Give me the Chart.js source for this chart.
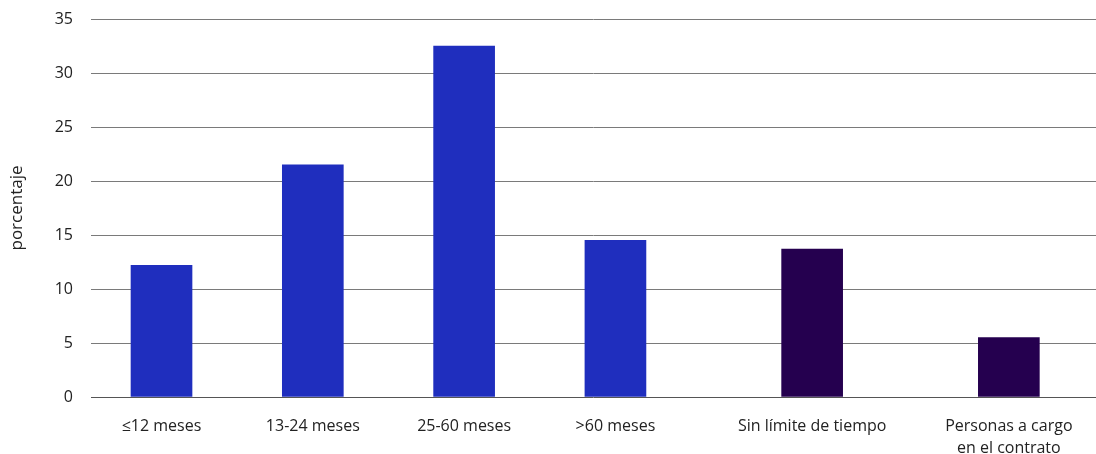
<!DOCTYPE html>
<html lang="es">
<head>
<meta charset="utf-8">
<title>Duración de los contratos</title>
<script src="https://cdn.jsdelivr.net/npm/chart.js@4/dist/chart.umd.min.js"></script>
<style>
  html, body { margin: 0; padding: 0; background: #ffffff; }
  #wrap { width: 1096px; height: 454px; }
</style>
</head>
<body>
<div id="wrap"><canvas id="chart" width="1096" height="454"></canvas></div>
<script>
// Category labels (multi-line labels as arrays)
const categories = [
  '≤12 meses',
  '13-24 meses',
  '25-60 meses',
  '>60 meses',
  'Sin límite de tiempo',
  ['Personas a cargo', 'en el contrato']
];
// Share of contracts, in percent
const values = [12.2, 21.5, 32.5, 14.5, 13.7, 5.5];
// Y-axis tick values
const yTicks = [0, 5, 10, 15, 20, 25, 30, 35];

// Layout: horizontal slot of each bar (the last two sit in a wider group)
const slots = [0, 1, 2, 3, 4.3, 5.6];
const barColors = ['#1f2ebe', '#1f2ebe', '#1f2ebe', '#1f2ebe', '#25004f', '#25004f'];

const points = values.map((v, i) => ({ x: slots[i], y: v }));

new Chart(document.getElementById('chart'), {
  type: 'bar',
  data: {
    datasets: [{
      data: points,
      backgroundColor: barColors,
      borderWidth: 0,
      barThickness: 61
    }]
  },
  options: {
    responsive: false,
    animation: false,
    layout: { padding: { top: 19, right: 0, bottom: 0, left: 0 } },
    plugins: { legend: { display: false }, tooltip: { enabled: false } },
    scales: {
      x: {
        type: 'linear',
        offset: false,
        min: -0.466,
        max: 6.176,
        afterBuildTicks: (scale) => {
          scale.ticks = slots.map(s => ({ value: s }));
        },
        afterFit: (scale) => { scale.height = 57; },
        grid: { display: false, drawTicks: false },
        border: { display: false },
        ticks: {
          autoSkip: false,
          maxRotation: 0,
          padding: 18,
          color: '#222222',
          font: { family: '"Open Sans", sans-serif', size: 16, lineHeight: 1.4 },
          callback: (value) => {
            const i = slots.indexOf(value);
            return i >= 0 ? categories[i] : '';
          }
        }
      },
      y: {
        min: 0,
        max: 35,
        afterBuildTicks: (scale) => {
          scale.ticks = yTicks.map(v => ({ value: v }));
        },
        afterFit: (scale) => {
          scale.width = 91;
          // the tick gap is horizontal only; keep the plot top at the layout padding
          scale.paddingTop = 8;
          scale.paddingBottom = 8;
        },
        grid: {
          color: (ctx) => (ctx.tick && ctx.tick.value === 0 ? '#555555' : '#7a7a7a'),
          lineWidth: 1,
          drawTicks: false
        },
        border: { display: false },
        ticks: {
          padding: 18,
          color: '#222222',
          font: { family: '"Open Sans", sans-serif', size: 16 }
        },
        title: {
          display: true,
          text: 'porcentaje',
          color: '#222222',
          font: { family: '"Open Sans", sans-serif', size: 17 },
          padding: { top: 7, bottom: 0 }
        }
      }
    }
  }
});
</script>
</body>
</html>
